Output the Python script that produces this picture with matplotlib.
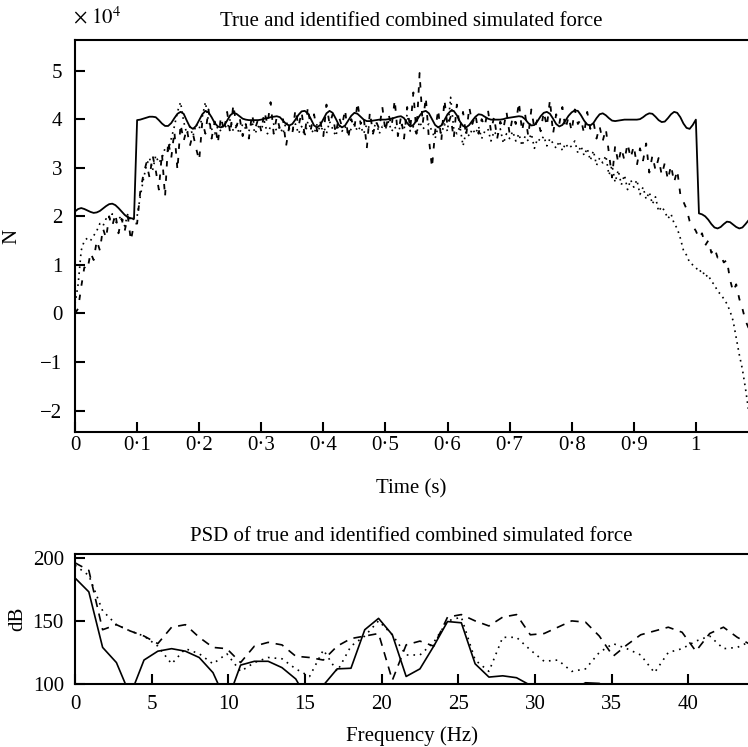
import matplotlib
matplotlib.use('Agg')
import matplotlib.pyplot as plt
import numpy as np

plt.rcParams.update({
    'font.family': 'Liberation Serif',
    'mathtext.fontset': 'stix',
    'font.size': 15,
    'axes.linewidth': 1.5,
})

# ---------------- top panel data (force, units of 1e4 N, step 0.005 s) ----------------
DT = 0.005
true_force = [
    2.10, 2.15, 2.17, 2.15, 2.12, 2.09, 2.07, 2.08, 2.11, 2.16,
    2.21, 2.25, 2.26, 2.23, 2.17, 2.10, 2.03, 1.98, 1.96, 1.95,
    3.98, 3.99, 4.01, 4.03, 4.05, 4.05, 4.04, 3.98, 3.91, 3.86,
    3.86, 3.92, 4.02, 4.11, 4.15, 4.11, 3.97, 3.84, 3.80, 3.86,
    3.98, 4.10, 4.17, 4.14, 4.04, 3.92, 3.85, 3.83, 3.87, 3.97,
    4.08, 4.13, 4.11, 4.06, 4.01, 3.99, 3.98, 3.98, 3.98, 3.98,
    3.99, 4.01, 4.02, 4.04, 4.05, 4.06, 4.04, 3.97, 3.90, 3.87,
    3.90, 3.99, 4.09, 4.16, 4.17, 4.12, 4.00, 3.87, 3.83, 3.88,
    4.00, 4.12, 4.17, 4.13, 4.01, 3.88, 3.83, 3.87, 3.97, 4.07,
    4.13, 4.11, 4.05, 3.99, 3.96, 3.96, 3.97, 3.98, 3.99, 3.99,
    3.99, 4.00, 4.01, 4.03, 4.05, 4.06, 4.02, 3.92, 3.85, 3.88,
    3.97, 4.07, 4.15, 4.17, 4.12, 4.00, 3.88, 3.83, 3.87, 3.98,
    4.10, 4.17, 4.17, 4.08, 3.95, 3.86, 3.83, 3.88, 3.97, 4.05,
    4.10, 4.09, 4.05, 4.01, 3.99, 3.99, 3.99, 3.99, 4.00, 4.02,
    4.03, 4.04, 4.05, 4.06, 4.05, 4.00, 3.92, 3.87, 3.88, 3.96,
    4.06, 4.13, 4.15, 4.11, 4.01, 3.90, 3.85, 3.88, 3.97, 4.07,
    4.14, 4.18, 4.17, 4.08, 3.97, 3.89, 3.87, 3.92, 4.02, 4.10,
    4.12, 4.08, 4.02, 3.97, 3.96, 3.97, 3.98, 3.99, 3.99, 3.99,
    3.99, 3.99, 4.00, 4.04, 4.09, 4.12, 4.11, 4.05, 3.98, 3.94,
    3.95, 4.02, 4.10, 4.15, 4.13, 4.04, 3.91, 3.82, 3.80, 3.88,
    3.99, 2.06, 2.04, 2.00, 1.93, 1.84, 1.77, 1.75, 1.78, 1.84,
    1.89, 1.88, 1.83, 1.78, 1.75, 1.77, 1.84, 1.92,
]
ident_dashed = [
    0.00, 0.10, 0.55, 0.95, 0.90, 1.25, 1.10, 1.50, 1.30, 1.75,
    1.55, 2.00, 1.80, 2.05, 1.65, 1.95, 1.70, 2.00, 1.50, 1.85,
    1.85, 2.50, 2.85, 3.10, 2.80, 3.25, 2.95, 2.55, 3.30, 2.40,
    3.55, 3.20, 3.75, 2.95, 3.90, 3.55, 3.80, 3.45, 3.70, 3.40,
    3.15, 3.95, 3.70, 4.20, 3.60, 3.95, 3.50, 4.05, 3.75, 4.15,
    3.70, 4.30, 3.85, 4.05, 3.65, 3.90, 3.60, 4.10, 3.80, 4.00,
    3.75, 4.15, 3.90, 4.35, 3.70, 4.05, 3.80, 4.00, 3.45, 3.85,
    3.70, 4.20, 3.85, 4.15, 3.65, 4.25, 3.80, 4.10, 3.75, 3.95,
    3.65, 4.30, 3.90, 4.10, 3.70, 4.05, 3.85, 4.20, 3.60, 4.00,
    3.80, 4.35, 3.90, 4.05, 3.40, 4.15, 3.70, 3.95, 3.80, 4.25,
    3.75, 4.10, 3.85, 4.40, 3.65, 4.05, 3.60, 4.25, 3.80, 4.55,
    3.70, 4.95, 3.90, 4.45, 3.60, 3.00, 3.75, 4.20, 3.55, 4.40,
    3.85, 4.05, 3.60, 4.30, 3.80, 4.15, 3.65, 4.25, 3.90, 4.10,
    3.70, 4.00, 3.85, 4.20, 3.75, 4.05, 3.60, 3.95, 3.80, 4.15,
    3.70, 4.05, 3.90, 4.35, 3.75, 4.10, 3.65, 4.20, 3.80, 4.00,
    3.75, 4.15, 3.85, 4.40, 3.70, 4.10, 3.90, 4.25, 3.80, 4.05,
    3.75, 4.20, 3.90, 4.00, 3.70, 4.15, 3.80, 3.95, 3.60, 3.85,
    3.55, 3.80, 3.30, 2.80, 3.45, 3.10, 3.40, 3.15, 3.50, 3.20,
    3.45, 3.05, 3.40, 3.15, 3.50, 2.90, 3.25, 2.95, 3.20, 2.85,
    3.10, 2.75, 3.05, 2.70, 2.95, 2.45, 2.30, 2.15, 1.90, 1.80,
    1.70, 1.55, 1.65, 1.40, 1.50, 1.25, 1.35, 1.15, 1.20, 1.05,
    1.10, 0.70, 0.45, 0.60, 0.30, 0.10, -0.15, -0.30,
]
ident_dotted = [
    0.20, 0.60, 1.30, 1.50, 1.55, 1.50, 1.60, 1.70, 1.85, 1.80,
    1.95, 1.90, 2.05, 1.85, 1.95, 2.00, 1.80, 2.05, 1.90, 1.95,
    2.00, 2.40, 2.75, 3.05, 3.20, 2.95, 3.25, 3.10, 3.20, 3.40,
    3.35, 3.60, 3.85, 4.15, 4.35, 3.95, 3.70, 3.85, 3.65, 3.90,
    3.80, 4.05, 4.35, 3.95, 3.80, 3.70, 3.85, 3.75, 3.90, 3.80,
    4.00, 3.75, 3.85, 3.70, 3.90, 3.80, 3.75, 3.95, 3.70, 3.85,
    3.80, 3.95, 3.70, 3.85, 3.90, 3.75, 3.85, 3.70, 3.95, 3.80,
    3.75, 3.90, 3.70, 3.85, 3.65, 3.95, 3.80, 3.70, 3.90, 3.75,
    3.85, 3.70, 3.95, 3.80, 3.65, 3.90, 3.75, 3.85, 3.70, 3.80,
    3.90, 3.75, 3.85, 3.70, 3.90, 3.80, 3.75, 3.95, 3.70, 3.85,
    3.80, 3.95, 3.75, 3.85, 3.70, 3.90, 3.80, 4.10, 3.75, 3.85,
    3.70, 3.95, 3.80, 3.85, 3.90, 3.75, 3.60, 3.85, 3.70, 3.90,
    3.75, 4.45, 3.80, 3.70, 3.85, 3.45, 3.75, 3.65, 3.80, 3.70,
    3.85, 3.60, 3.75, 3.80, 3.55, 3.75, 3.65, 3.80, 3.50, 3.70,
    3.60, 3.75, 3.55, 3.70, 3.45, 3.65, 3.55, 3.70, 3.40, 3.60,
    3.55, 3.65, 3.45, 3.60, 3.50, 3.40, 3.55, 3.35, 3.50, 3.40,
    3.45, 3.55, 3.30, 3.45, 3.25, 3.40, 3.15, 3.35, 3.05, 3.20,
    3.10, 3.25, 2.85, 3.05, 2.70, 2.95, 2.65, 2.85, 2.55, 2.75,
    2.60, 2.75, 2.45, 2.60, 2.35, 2.50, 2.25, 2.40, 2.10, 2.20,
    2.10, 1.95, 2.05, 1.85, 1.75, 1.55, 1.30, 1.20, 1.05, 1.00,
    0.95, 0.85, 0.90, 0.75, 0.80, 0.65, 0.60, 0.45, 0.40, 0.30,
    0.20, 0.05, -0.15, -0.50, -0.85, -1.15, -1.55, -2.00,
]
time_ticks = [0, 0.1, 0.2, 0.3, 0.4, 0.5, 0.6, 0.7, 0.8, 0.9, 1]
time_labels = ['0', '0·1', '0·2', '0·3', '0·4', '0·5', '0·6', '0·7', '0·8', '0·9', '1']
force_ticks = [-2, -1, 0, 1, 2, 3, 4, 5]

# ---------------- bottom panel data (PSD in dB, step 0.9 Hz) ----------------
DF = 0.9
psd_true = [184, 173, 129, 117, 91, 119, 126, 128, 126, 121,
            109, 85, 115, 118, 118, 113, 104, 85, 99, 112,
            112.5, 143, 152, 139, 106, 112, 130, 149.5, 148.5, 116,
            105.5, 106.5, 105, 99, 80, 70, 95, 101, 100.5, 95,
            80, 70, 70, 70, 70, 70, 70, 70, 70, 70]
psd_dashed = [196, 190, 143, 147, 142, 138, 132, 145, 147, 137,
              129, 128, 117, 130, 133, 131, 122, 121, 119, 130,
              136, 138, 140, 103, 131, 134, 130, 153, 155, 150,
              146, 153, 155, 139, 140, 145, 150, 149, 138, 122,
              131, 139, 142, 145, 141, 126, 140, 145, 137, 131]
psd_dotted = [194, 186, 158, 147, 142, 138, 130, 116, 128, 124,
              116, 124, 110, 117, 121, 120, 112, 106, 127, 110,
              130, 138, 150, 139, 123, 123, 133, 150, 153, 119,
              110, 137, 137, 127, 118, 119, 110, 112, 125, 132,
              128, 123, 109, 125, 128, 134, 138, 128, 129, 134]
freq_ticks = [0, 5, 10, 15, 20, 25, 30, 35, 40]
db_ticks = [100, 150, 200]

t = np.arange(len(true_force)) * DT
f = np.arange(len(psd_true)) * DF

fig = plt.figure(figsize=(7.48, 7.47), dpi=100)


def style_axes(ax):
    ax.spines['right'].set_visible(False)
    ax.tick_params(direction='in', length=7, width=1.5, top=False, right=False)


# ---- top: force time history ----
ax1 = fig.add_axes([0.1003, 0.4217, 0.8997, 0.5248])
ax1.plot(t, true_force, color='black', linewidth=1.3)
ax1.plot(t, ident_dashed, color='black', linewidth=1.3, linestyle=(0, (3, 5)))
ax1.plot(t, ident_dotted, color='black', linewidth=1.2, linestyle=(0, (1, 2.6)))
ax1.set_xlim(0, 1.084)
ax1.set_ylim(-2.44, 5.63)
ax1.set_xticks(time_ticks)
ax1.set_xticklabels(time_labels)
ax1.set_yticks(force_ticks)
style_axes(ax1)
ax1.tick_params(axis='x', pad=3)
ax1.tick_params(axis='y', pad=9)
ax1.set_xlabel('Time (s)', labelpad=17)
ax1.set_ylabel('N', labelpad=14)
ax1.set_title('True and identified combined simulated force', fontsize=15, pad=10)
fig.text(0.098, 0.962, r'$\times\ 10^{4}$', fontsize=15, ha='left', va='bottom')

# ---- bottom: PSD ----
ax2 = fig.add_axes([0.1003, 0.0843, 0.8997, 0.1741])
ax2.plot(f, psd_true, color='black', linewidth=1.2)
ax2.plot(f, psd_dashed, color='black', linewidth=1.2, linestyle=(0, (5, 4)))
ax2.plot(f, psd_dotted, color='black', linewidth=1.2, linestyle=(0, (1, 3)))
ax2.set_xlim(0, 43.9)
ax2.set_ylim(100, 203)
ax2.set_xticks(freq_ticks)
ax2.set_yticks(db_ticks)
style_axes(ax2)
ax2.tick_params(axis='x', pad=8)
ax2.tick_params(axis='y', pad=8)
ax2.set_xlabel('Frequency (Hz)', labelpad=9)
ax2.set_ylabel('dB', labelpad=4)
ax2.set_title('PSD of true and identified combined simulated force', fontsize=15, pad=9)

plt.savefig('out.png', dpi=100)
plt.close()
